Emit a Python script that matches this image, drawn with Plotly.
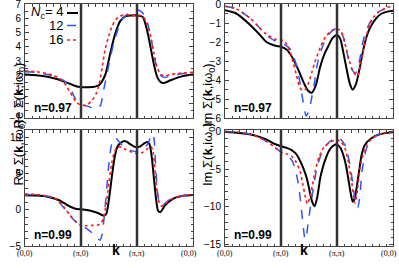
import plotly.graph_objects as go

# ---------------- data ----------------
KPOINTS = [0, 1, 2, 3]
KLABELS = ["(0,0)", "(π,0)", "(π,π)", "(0,0)"]

# Re Sigma, n = 0.97
RE97_NC4_X = [0, 0.2, 0.4, 0.6, 0.8, 0.9, 1.0, 1.1, 1.2, 1.25, 1.32, 1.43, 1.52, 1.61, 1.7, 1.8, 1.9, 2.0, 2.1,
              2.15, 2.2, 2.25, 2.3, 2.35, 2.4, 2.46, 2.5, 2.6, 2.7, 2.8, 2.9, 3.0]
RE97_NC4_Y = [2.05, 2.0, 1.9, 1.7, 1.4, 1.25, 1.17, 1.15, 1.18, 1.2, 1.3, 2.0, 3.5, 4.9, 5.8, 6.15, 6.2, 6.2, 6.1,
              5.6, 4.8, 3.8, 2.8, 2.0, 1.6, 1.45, 1.48, 1.65, 1.8, 1.92, 2.0, 2.05]
RE97_NC12_X = [0, 0.2, 0.4, 0.5, 0.6, 0.7, 0.8, 0.9, 1.0, 1.1, 1.2, 1.28, 1.35, 1.4, 1.45, 1.5, 1.55, 1.6, 1.65,
               1.7, 1.8, 1.9, 2.0, 2.08, 2.15, 2.2, 2.25, 2.3, 2.35, 2.4, 2.45, 2.5, 2.6, 2.8, 3.0]
RE97_NC12_Y = [2.25, 2.2, 2.05, 1.95, 1.8, 1.6, 1.15, 0.35, -0.05, -0.15, -0.3, -0.37, -0.1, 0.9, 1.8, 2.8, 3.7,
               4.5, 5.1, 5.7, 6.2, 6.4, 6.6, 6.45, 6.1, 5.5, 4.6, 3.5, 2.6, 2.1, 1.9, 1.85, 1.95, 2.1, 2.2]
RE97_NC16_X = [0, 0.2, 0.4, 0.5, 0.6, 0.7, 0.8, 0.9, 0.97, 1.05, 1.1, 1.2, 1.28, 1.32, 1.38, 1.43, 1.5, 1.55, 1.62,
               1.7, 1.8, 1.9, 2.0, 2.05, 2.1, 2.15, 2.2, 2.25, 2.3, 2.35, 2.4, 2.45, 2.5, 2.6, 2.8, 3.0]
RE97_NC16_Y = [2.3, 2.25, 2.1, 2.0, 1.8, 1.45, 0.85, 0.2, -0.05, -0.12, -0.1, 0.25, 0.8, 1.3, 2.6, 3.8, 4.8, 5.4,
               5.9, 6.15, 6.25, 6.2, 6.15, 6.2, 6.1, 5.9, 5.4, 4.6, 3.6, 2.7, 2.2, 2.0, 1.95, 2.05, 2.15, 2.2]

# Im Sigma, n = 0.97
IM97_NC4_X = [0, 0.2, 0.45, 0.6, 0.74, 0.9, 1.0, 1.1, 1.2, 1.3, 1.4, 1.48, 1.55, 1.62, 1.7, 1.78, 1.84, 1.92, 2.0,
              2.06, 2.11, 2.17, 2.23, 2.28, 2.34, 2.41, 2.47, 2.53, 2.6, 2.7, 2.8, 2.9, 3.0]
IM97_NC4_Y = [-0.33, -0.5, -1.1, -1.55, -2.0, -2.2, -2.25, -2.4, -2.8, -3.4, -4.1, -4.55, -4.67, -4.3, -3.3, -2.6,
              -2.25, -1.8, -1.63, -1.85, -2.5, -3.4, -4.2, -4.5, -4.2, -3.3, -2.4, -1.7, -1.2, -0.75, -0.5, -0.4, -0.35]
IM97_NC12_X = [0, 0.2, 0.45, 0.6, 0.74, 0.9, 1.0, 1.1, 1.16, 1.22, 1.28, 1.33, 1.37, 1.41, 1.45, 1.5, 1.55, 1.6,
               1.64, 1.7, 1.79, 1.9, 2.0, 2.06, 2.11, 2.16, 2.2, 2.26, 2.33, 2.4, 2.47, 2.55, 2.65, 2.75, 2.9, 3.0]
IM97_NC12_Y = [-0.12, -0.25, -0.75, -1.2, -1.65, -1.95, -2.05, -2.2, -2.35, -2.7, -3.3, -4.0, -4.7, -5.4, -5.9,
               -5.6, -4.9, -4.1, -3.3, -2.6, -1.9, -1.45, -1.28, -1.4, -1.72, -2.3, -2.85, -3.4, -3.65, -3.0, -1.9,
               -1.2, -0.67, -0.4, -0.2, -0.12]
IM97_NC16_X = [0, 0.2, 0.45, 0.6, 0.74, 0.9, 1.0, 1.05, 1.1, 1.16, 1.22, 1.28, 1.33, 1.38, 1.43, 1.5, 1.55, 1.6,
               1.7, 1.79, 1.9, 2.0, 2.06, 2.11, 2.16, 2.22, 2.28, 2.36, 2.42, 2.5, 2.58, 2.65, 2.75, 2.9, 3.0]
IM97_NC16_Y = [-0.12, -0.25, -0.75, -1.2, -1.6, -1.85, -1.9, -1.95, -2.1, -2.5, -3.1, -3.8, -4.35, -4.55, -4.5,
               -4.1, -3.6, -3.1, -2.3, -1.75, -1.4, -1.3, -1.4, -1.7, -2.3, -3.0, -3.5, -3.8, -3.2, -2.0, -1.1,
               -0.7, -0.4, -0.18, -0.12]

# Re Sigma, n = 0.99
RE99_NC4_X = [0, 0.2, 0.4, 0.6, 0.7, 0.8, 0.9, 1.0, 1.1, 1.2, 1.3, 1.4, 1.45, 1.5, 1.55, 1.6, 1.65, 1.72, 1.78,
              1.85, 1.95, 2.0, 2.05, 2.12, 2.18, 2.22, 2.26, 2.3, 2.34, 2.38, 2.42, 2.5, 2.6, 2.7, 2.85, 3.0]
RE99_NC4_Y = [2.0, 1.95, 1.8, 1.35, 0.9, 0.45, 0.15, 0.05, -0.05, -0.2, -0.45, -0.8, -0.6, 1.5, 4.5, 7.2, 8.7,
              9.3, 9.5, 9.2, 8.7, 8.6, 8.7, 9.1, 9.35, 9.1, 7.5, 4.5, 1.5, -0.2, -0.3, 0.6, 1.3, 1.7, 1.95, 2.05]
RE99_NC12_X = [0, 0.2, 0.4, 0.5, 0.6, 0.7, 0.8, 0.9, 1.0, 1.1, 1.2, 1.28, 1.34, 1.38, 1.42, 1.46, 1.5, 1.54, 1.58,
               1.62, 1.66, 1.72, 1.8, 1.9, 2.0, 2.1, 2.2, 2.27, 2.3, 2.33, 2.36, 2.4, 2.44, 2.5, 2.6, 2.75, 3.0]
RE99_NC12_Y = [2.1, 2.05, 1.85, 1.6, 1.1, 0.2, -0.8, -1.6, -2.1, -2.6, -3.2, -3.8, -4.2, -3.3, -0.5, 3.0, 6.5,
               8.8, 9.8, 9.9, 9.6, 9.0, 8.5, 8.15, 8.0, 8.3, 9.2, 10.5, 10.0, 6.5, 3.0, 0.8, 0.5, 0.9, 1.5, 1.85, 2.1]
RE99_NC16_X = [0, 0.2, 0.4, 0.5, 0.6, 0.7, 0.8, 0.9, 1.0, 1.1, 1.2, 1.3, 1.35, 1.4, 1.45, 1.5, 1.55, 1.6, 1.65,
               1.72, 1.8, 1.9, 2.0, 2.1, 2.2, 2.25, 2.28, 2.32, 2.36, 2.4, 2.44, 2.5, 2.6, 2.75, 3.0]
RE99_NC16_Y = [2.15, 2.1, 1.9, 1.7, 1.2, 0.3, -0.7, -1.6, -2.15, -2.2, -2.15, -2.1, -1.9, -1.2, 0.8, 3.8, 6.5,
               8.0, 8.6, 8.65, 8.3, 7.95, 7.75, 7.9, 8.5, 8.7, 8.3, 5.5, 2.5, 0.9, 0.5, 0.8, 1.4, 1.85, 2.1]

# Im Sigma, n = 0.99
IM99_NC4_X = [0, 0.25, 0.5, 0.74, 0.89, 1.0, 1.1, 1.19, 1.27, 1.34, 1.4, 1.46, 1.52, 1.56, 1.6, 1.65, 1.7, 1.75,
              1.79, 1.85, 1.92, 2.0, 2.06, 2.11, 2.16, 2.2, 2.24, 2.28, 2.32, 2.35, 2.4, 2.44, 2.5, 2.62, 2.75,
              2.86, 3.0]
IM99_NC4_Y = [-0.13, -0.25, -0.5, -1.1, -1.7, -2.0, -2.2, -2.5, -3.0, -3.9, -4.9, -6.2, -8.2, -9.4, -9.9, -8.6,
              -6.2, -4.7, -3.8, -2.7, -2.0, -1.75, -2.2, -3.1, -4.5, -6.2, -8.0, -9.3, -8.8, -7.5, -5.0, -3.1, -1.8,
              -0.9, -0.45, -0.26, -0.13]
IM99_NC12_X = [0, 0.25, 0.5, 0.74, 0.9, 1.0, 1.1, 1.19, 1.25, 1.31, 1.36, 1.4, 1.43, 1.46, 1.49, 1.55, 1.6, 1.64,
               1.7, 1.79, 1.9, 2.0, 2.07, 2.14, 2.19, 2.23, 2.28, 2.33, 2.37, 2.41, 2.44, 2.48, 2.53, 2.6, 2.68,
               2.8, 3.0]
IM99_NC12_Y = [-0.05, -0.15, -0.5, -1.35, -2.2, -2.75, -3.2, -3.8, -4.9, -7.0, -10.0, -12.8, -14.3, -13.5, -11.8,
               -8.8, -6.5, -4.9, -3.4, -2.0, -1.2, -0.85, -1.1, -1.8, -3.0, -4.4, -6.8, -9.3, -10.1, -8.5, -5.7,
               -3.8, -2.2, -1.3, -0.7, -0.3, -0.05]
IM99_NC16_X = [0, 0.25, 0.5, 0.74, 0.9, 1.0, 1.1, 1.19, 1.27, 1.34, 1.39, 1.43, 1.47, 1.52, 1.56, 1.61, 1.68,
               1.76, 1.88, 2.0, 2.07, 2.14, 2.2, 2.26, 2.32, 2.36, 2.41, 2.47, 2.53, 2.6, 2.68, 2.8, 3.0]
IM99_NC16_Y = [-0.05, -0.15, -0.5, -1.35, -2.2, -2.75, -3.0, -3.3, -4.1, -5.3, -7.0, -8.5, -9.6, -8.6, -7.2, -5.3,
               -3.4, -2.2, -1.45, -1.15, -1.4, -2.2, -4.0, -6.6, -9.5, -8.0, -4.9, -2.9, -1.8, -1.15, -0.7, -0.3,
               -0.05]

NC_LABELS = ["4", "12", "16"]
N_LABELS = ["n=0.97", "n=0.97", "n=0.99", "n=0.99"]

# ---------------- styling / layout ----------------
FONT = "Liberation Sans"
STYLES = [dict(color="black", width=2, dash="solid"),
          dict(color="#2f54ff", width=1.5, dash="dash"),
          dict(color="#ff1a1a", width=1.6, dash="dot")]

W, H = 399, 268
ML, MR, MT, MB = 25, 6, 4, 22
PW, PH = W - ML - MR, H - MT - MB


def px2x(px):
    return (px - ML) / PW


def py2y(py):
    return 1 - (py - MT) / PH


fig = go.Figure()

panels = [
    ("x", "y", [(RE97_NC4_X, RE97_NC4_Y), (RE97_NC12_X, RE97_NC12_Y), (RE97_NC16_X, RE97_NC16_Y)]),
    ("x2", "y2", [(IM97_NC4_X, IM97_NC4_Y), (IM97_NC12_X, IM97_NC12_Y), (IM97_NC16_X, IM97_NC16_Y)]),
    ("x3", "y3", [(RE99_NC4_X, RE99_NC4_Y), (RE99_NC12_X, RE99_NC12_Y), (RE99_NC16_X, RE99_NC16_Y)]),
    ("x4", "y4", [(IM99_NC4_X, IM99_NC4_Y), (IM99_NC12_X, IM99_NC12_Y), (IM99_NC16_X, IM99_NC16_Y)]),
]

for xa, ya, series in panels:
    for (xs, ys), st, lab in zip(series, STYLES, NC_LABELS):
        fig.add_trace(go.Scatter(x=xs, y=ys, mode="lines", xaxis=xa, yaxis=ya, name=lab,
                                 line=dict(shape="spline", smoothing=0.7, **st), showlegend=False))

XDOM = [[px2x(25), px2x(193)], [px2x(225), px2x(393)]]
YDOM = [[py2y(118), py2y(4)], [py2y(246), py2y(130)]]
YRANGES = [[-1, 7], [-6, 0], [-5, 11], [-15.15, 0.15]]
YDTICK = [1, 1, 5, 5]
YMINOR = [0.5, 0.5, 1, 1]

axis_common = dict(showline=True, linecolor="#444", linewidth=1, mirror="ticks", ticks="inside",
                   tickcolor="#444", showgrid=False, zeroline=False, automargin=False,
                   ticklabeloverflow="allow",
                   tickfont=dict(family=FONT, size=10, color="black"))

layout = dict(width=W, height=H, margin=dict(l=ML, r=MR, t=MT, b=MB, autoexpand=False),
              plot_bgcolor="white", paper_bgcolor="white", showlegend=False)

for i in range(4):
    row, col = divmod(i, 2)
    sfx = "" if i == 0 else str(i + 1)
    layout["xaxis" + sfx] = dict(axis_common, domain=XDOM[col], range=[0, 3], anchor="y" + sfx,
                                 tickmode="array", tickvals=KPOINTS, showticklabels=False, ticklen=4,
                                 minor=dict(tickmode="linear", tick0=0, dtick=0.125, ticks="inside",
                                            ticklen=2.5, tickcolor="#444"))
    layout["yaxis" + sfx] = dict(axis_common, domain=YDOM[row], range=YRANGES[i], anchor="x" + sfx,
                                 dtick=YDTICK[i], ticklen=4, ticklabelstandoff=1,
                                 minor=dict(dtick=YMINOR[i], ticks="inside", ticklen=2.5, tickcolor="#444"))

fig.update_layout(**layout)

# vertical lines at the high-symmetry points (pi,0) and (pi,pi)
for i in range(4):
    sfx = "" if i == 0 else str(i + 1)
    for k in KPOINTS[1:3]:
        fig.add_shape(type="line", xref="x" + sfx, yref="y" + sfx + " domain", x0=k, x1=k, y0=0, y1=1,
                      line=dict(color="#333", width=2.5), layer="above")

# k-point labels under the bottom panels
for xa in ["x3", "x4"]:
    for j, (k, lab) in enumerate(zip(KPOINTS, KLABELS)):
        last = j == len(KPOINTS) - 1
        fig.add_annotation(text=lab, xref=xa, yref="paper", x=k, y=py2y(253), showarrow=False,
                           xanchor="right" if last else "center", xshift=6 if last else 0,
                           yanchor="middle",
                           font=dict(family="Liberation Serif", size=8, color="black"))

# y-axis titles and density labels
ytitles = ["Re Σ(<b>k</b>,iω<sub>0</sub>)", "Im Σ(<b>k</b>,iω<sub>0</sub>)"]
for i in range(4):
    row, col = divmod(i, 2)
    fig.add_annotation(text=ytitles[col], xref="paper", yref="paper",
                       x=px2x([8, 208][col]), y=sum(YDOM[row]) / 2, textangle=-90, showarrow=False,
                       font=dict(family=FONT, size=13, color="black"))
    fig.add_annotation(text="<b>%s</b>" % N_LABELS[i], xref="paper", yref="paper",
                       x=px2x([32, 232][col]), y=py2y([108, 235][row]),
                       xanchor="left", yanchor="middle", showarrow=False,
                       font=dict(family=FONT, size=12, color="black"))

# x-axis "k" labels
for col in range(2):
    fig.add_annotation(text="<b>k</b>", xref="paper", yref="paper", x=px2x([110, 310][col]),
                       y=py2y(260), showarrow=False, font=dict(family=FONT, size=14, color="black"))

# legend (text then line sample)
leg_text = ["<i>N</i><sub>c</sub>= 4", "12", "16"]
leg_y = [13, 25.5, 40]
for t, yy, st in zip(leg_text, leg_y, STYLES):
    fig.add_annotation(text=t, xref="paper", yref="paper", x=px2x(65), y=py2y(yy), xanchor="right",
                       yanchor="middle", showarrow=False, font=dict(family=FONT, size=13, color="black"))
    fig.add_shape(type="line", xref="paper", yref="paper", x0=px2x(67), x1=px2x(78),
                  y0=py2y(yy), y1=py2y(yy), line=st)

fig.write_html("out.html", config={"displayModeBar": False},
               post_script="document.body.style.margin='0px';")
